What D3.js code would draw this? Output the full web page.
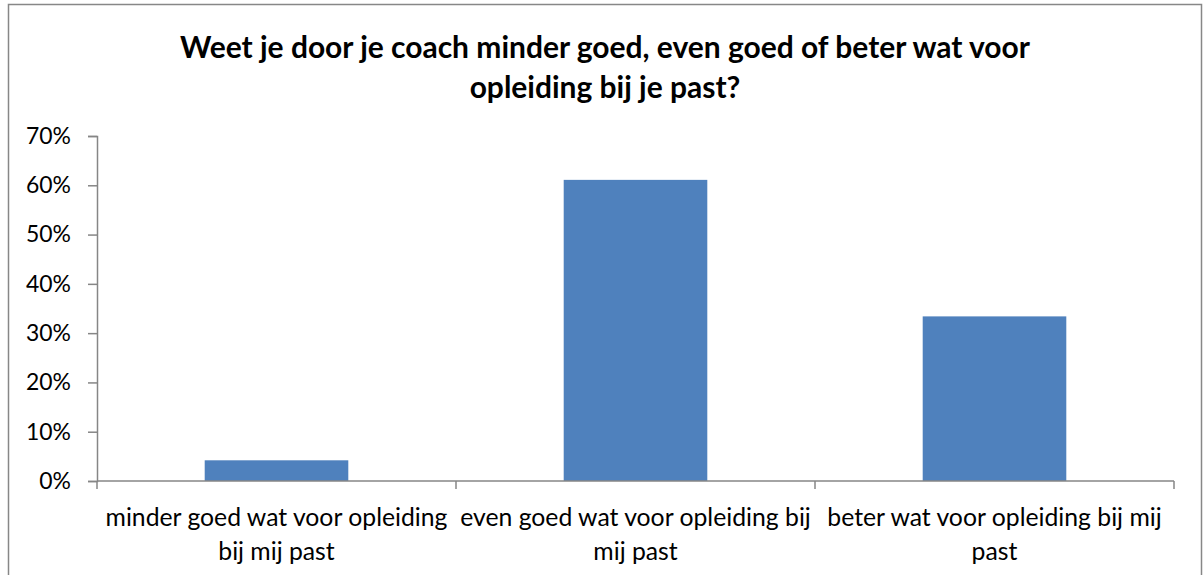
<!DOCTYPE html>
<html>
<head>
<meta charset="utf-8">
<script src="https://cdn.jsdelivr.net/npm/d3@7"></script>
<style>
  html, body { margin: 0; padding: 0; background: #fff; }
  svg { display: block; }
  text { font-family: Lato, "Open Sans", "Liberation Sans", sans-serif; fill: #000; }
</style>
</head>
<body>
<svg id="chart" width="1203" height="575"></svg>
<script>
const titleLines = ["Weet je door je coach minder goed, even goed of beter wat voor", "opleiding bij je past?"];
const categories = ["minder goed wat voor opleiding bij mij past", "even goed wat voor opleiding bij mij past", "beter wat voor opleiding bij mij past"];
const categoryLines = [["minder goed wat voor opleiding", "bij mij past"], ["even goed wat voor opleiding bij", "mij past"], ["beter wat voor opleiding bij mij", "past"]];
const values = [0.042, 0.611, 0.334];
const yTicks = [0, 0.1, 0.2, 0.3, 0.4, 0.5, 0.6, 0.7];

const svg = d3.select("#chart");
const W = 1203, H = 575;
const plot = { left: 97, right: 1174, top: 136, bottom: 481 };

// outer frame
svg.append("rect").attr("x", 8.5).attr("y", 4.5).attr("width", 1193).attr("height", 600)
  .attr("fill", "#fff").attr("stroke", "#878787").attr("stroke-width", 1.5);

// fit text to target width helper
function fitSize(sel, target) {
  const len = sel.node().getComputedTextLength();
  const fs = parseFloat(sel.attr("font-size"));
  sel.attr("font-size", fs * target / len);
}

// title
const t1 = svg.append("text").attr("x", 605).attr("y", 58).attr("text-anchor", "middle")
  .attr("font-weight", "bold").attr("font-size", 24).text(titleLines[0]);
fitSize(t1, 850);
const tfs = t1.attr("font-size");
svg.append("text").attr("x", 605).attr("y", 98).attr("text-anchor", "middle")
  .attr("font-weight", "bold").attr("font-size", tfs).text(titleLines[1]);

const x = d3.scaleBand().domain(categories).range([plot.left, plot.right])
  .paddingInner(0.6).paddingOuter(0.3);
const y = d3.scaleLinear().domain([0, 0.7]).range([plot.bottom, plot.top]);

// bars
svg.append("g").selectAll("rect").data(values).join("rect")
  .attr("x", (d, i) => x(categories[i]))
  .attr("width", x.bandwidth())
  .attr("y", d => y(d))
  .attr("height", d => y(0) - y(d))
  .attr("fill", "#4F81BD");

// y axis
const yAxis = d3.axisLeft(y).tickValues(yTicks).tickFormat(d3.format(".0%"))
  .tickSize(9).tickPadding(17);
const gy = svg.append("g").attr("transform", `translate(${plot.left},0)`).call(yAxis);
gy.select(".domain").attr("stroke", "#868686").attr("stroke-width", 1.5);
gy.selectAll(".tick line").attr("stroke", "#868686").attr("stroke-width", 1.5);
gy.selectAll(".tick text").attr("font-size", 20).attr("font-family", "Lato, sans-serif").attr("fill", "#000");
// fit tick size: "70%" width ~ 45px
const sample = gy.selectAll(".tick text").filter(d => d === 0.7);
const sLen = sample.node().getComputedTextLength();
const tickFs = 20 * 45 / sLen;
gy.selectAll(".tick text").attr("font-size", tickFs);

// x axis line & boundary ticks
const bounds = [0, 1, 2, 3].map(i => plot.left + i * x.step());
svg.append("line").attr("x1", plot.left).attr("x2", plot.right).attr("y1", y(0)).attr("y2", y(0))
  .attr("stroke", "#868686").attr("stroke-width", 1.5);
svg.append("g").selectAll("line").data(bounds).join("line")
  .attr("x1", d => d).attr("x2", d => d).attr("y1", y(0)).attr("y2", y(0) + 8)
  .attr("stroke", "#868686").attr("stroke-width", 1.5);

// category labels
const lab = svg.append("g");
categories.forEach((c, i) => {
  const cx = x(c) + x.bandwidth() / 2;
  const txt = lab.append("text").attr("text-anchor", "middle").attr("font-size", 20);
  categoryLines[i].forEach((ln, j) => {
    txt.append("tspan").attr("x", cx).attr("y", 526 + j * 34).text(ln);
  });
});
// fit label font size so first line of first label ~ 342px
const probe = svg.append("text").attr("font-size", 20).text(categoryLines[0][0]);
const pLen = probe.node().getComputedTextLength();
probe.remove();
lab.selectAll("text").attr("font-size", 20 * 342 / pLen);
</script>
</body>
</html>
